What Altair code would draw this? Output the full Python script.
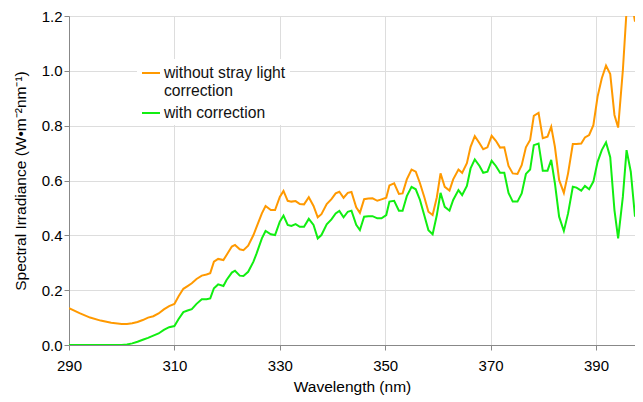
import altair as alt
import pandas as pd

wavelength = [290, 292, 294, 296, 298, 300, 301, 302, 303, 304, 305, 306, 307, 308, 309, 310,
              310.8, 311.7, 312.5, 313.3, 314.2, 315.2, 316.1, 316.8, 317.5, 318.3, 319.3, 319.9,
              320.9, 321.5, 322.4, 323.1, 324.0, 325.0, 325.6, 326.6, 327.3, 328.3, 329.1, 330.0,
              330.7, 331.5, 332.2, 333.0, 333.8, 334.6, 335.5, 336.4, 337.2, 337.9, 338.9, 339.8,
              340.6, 341.3, 342.1, 342.9, 343.6, 344.5, 345.2, 346.0, 346.8, 347.6, 348.5, 349.3,
              350.2, 350.8, 351.7, 352.6, 353.3, 354.1, 355.0, 355.8, 356.6, 357.4, 358.2, 359.0,
              359.8, 360.5, 361.3, 362.2, 362.9, 363.9, 364.6, 365.5, 366.2, 367.0, 367.9, 368.6,
              369.4, 370.2, 371.0, 371.8, 372.6, 373.4, 374.2, 375.1, 375.9, 376.7, 377.5, 378.2,
              379.1, 379.9, 380.8, 381.5, 382.2, 383.0, 383.9, 384.7, 385.6, 386.3, 387.2, 387.9,
              388.7, 389.5, 390.3, 391.1, 391.9, 392.7, 393.5, 394.2, 395.1, 395.8, 396.6, 397.4,
              398.2, 398.9]

without_correction = [0.134, 0.116, 0.100, 0.089, 0.081, 0.077, 0.077, 0.079, 0.084, 0.091, 0.100,
                      0.105, 0.115, 0.130, 0.142, 0.150,
                      0.178, 0.205, 0.215, 0.225, 0.241, 0.253, 0.257, 0.262, 0.304, 0.314, 0.310,
                      0.328, 0.359, 0.365, 0.349, 0.346, 0.362, 0.401, 0.431, 0.480, 0.507, 0.492,
                      0.492, 0.540, 0.562, 0.526, 0.523, 0.525, 0.514, 0.513, 0.539, 0.507, 0.466,
                      0.477, 0.514, 0.532, 0.553, 0.559, 0.537, 0.555, 0.558, 0.502, 0.482, 0.532,
                      0.534, 0.535, 0.526, 0.531, 0.537, 0.582, 0.590, 0.551, 0.553, 0.604, 0.640,
                      0.632, 0.590, 0.541, 0.486, 0.474, 0.539, 0.626, 0.577, 0.563, 0.604, 0.640,
                      0.628, 0.663, 0.723, 0.762, 0.736, 0.714, 0.721, 0.763, 0.745, 0.720, 0.721,
                      0.653, 0.626, 0.624, 0.656, 0.721, 0.748, 0.836, 0.847, 0.754, 0.760, 0.796,
                      0.723, 0.602, 0.555, 0.626, 0.733, 0.733, 0.735, 0.757, 0.766, 0.802, 0.906,
                      0.973, 1.019, 0.988, 0.839, 0.793, 1.003, 1.22, 1.27, 1.18, 1.28, 1.35]

with_correction = [0.0, 0.0, 0.0, 0.0, 0.0, 0.0, 0.002, 0.006, 0.012, 0.019, 0.026, 0.034, 0.042,
                   0.055, 0.065, 0.069,
                   0.095, 0.120, 0.126, 0.131, 0.150, 0.167, 0.167, 0.170, 0.207, 0.221, 0.215,
                   0.237, 0.264, 0.271, 0.253, 0.252, 0.267, 0.304, 0.334, 0.389, 0.416, 0.404,
                   0.401, 0.450, 0.472, 0.438, 0.434, 0.441, 0.431, 0.431, 0.460, 0.438, 0.389,
                   0.401, 0.440, 0.458, 0.480, 0.489, 0.466, 0.486, 0.490, 0.438, 0.419, 0.468,
                   0.470, 0.470, 0.462, 0.462, 0.474, 0.523, 0.526, 0.490, 0.490, 0.543, 0.577,
                   0.568, 0.529, 0.474, 0.419, 0.404, 0.474, 0.555, 0.504, 0.490, 0.529, 0.565,
                   0.547, 0.580, 0.644, 0.677, 0.653, 0.628, 0.632, 0.672, 0.653, 0.628, 0.628,
                   0.555, 0.523, 0.523, 0.553, 0.624, 0.640, 0.729, 0.735, 0.636, 0.636, 0.675,
                   0.590, 0.468, 0.416, 0.480, 0.577, 0.574, 0.563, 0.580, 0.568, 0.596, 0.668,
                   0.711, 0.739, 0.685, 0.492, 0.389, 0.541, 0.711, 0.632, 0.468, 0.638, 0.827]

series_names = ["without stray light correction", "with correction"]
series_colors = ["#FF9900", "#11EE11"]
x_ticks = [290, 310, 330, 350, 370, 390]
y_ticks = [0.0, 0.2, 0.4, 0.6, 0.8, 1.0, 1.2]

rows = []
for i, w in enumerate(wavelength):
    rows.append({"wl": w, "value": without_correction[i], "series": series_names[0]})
    rows.append({"wl": w, "value": with_correction[i], "series": series_names[1]})
df = pd.DataFrame(rows)

FONT = "Liberation Sans"

chart = alt.Chart(df).mark_line(strokeWidth=2, clip=True).encode(
    x=alt.X("wl:Q",
            scale=alt.Scale(domain=[290, 397.4], nice=False, zero=False),
            axis=alt.Axis(values=x_ticks, title="Wavelength (nm)", format="d",
                          labelFontSize=15, titleFontSize=15.5, labelPadding=8,
                          titlePadding=6, tickSize=5, titleFontWeight="normal",
                          labelFlush=False)),
    y=alt.Y("value:Q",
            scale=alt.Scale(domain=[0, 1.2], nice=False),
            axis=alt.Axis(values=y_ticks, format=".1f",
                          title="Spectral Irradiance (W•m⁻²nm⁻¹)",
                          labelFontSize=15, titleFontSize=15.5, labelPadding=2,
                          titlePadding=13, tickSize=5, titleFontWeight="normal",
                          labelFlush=False)),
    color=alt.Color("series:N",
                    scale=alt.Scale(domain=series_names, range=series_colors),
                    legend=alt.Legend(title=None, orient="none", legendX=68, legendY=43,
                                      fillColor="white", padding=4,
                                      symbolType="stroke", symbolSize=324,
                                      symbolStrokeWidth=2, labelFontSize=15.7,
                                      labelFont=FONT, labelColor="#111",
                                      labelOffset=3, rowPadding=4,
                                      labelExpr="datum.label == 'without stray light correction' ? ['without stray light', 'correction'] : datum.label")),
    detail="series:N",
    order="wl:Q",
).properties(
    width=566, height=329,
    autosize=alt.AutoSizeParams(type="none"),
    padding={"left": 61, "top": 8, "right": 0, "bottom": 56},
).configure_view(stroke=None).configure_axis(
    labelFont=FONT, titleFont=FONT, labelColor="#111", titleColor="#111",
    domainColor="#222", tickColor="#222", gridColor="#999", gridWidth=1,
    domainWidth=1,
).configure(font=FONT)

chart.save("out.html", embed_options={"renderer": "svg", "actions": False})
